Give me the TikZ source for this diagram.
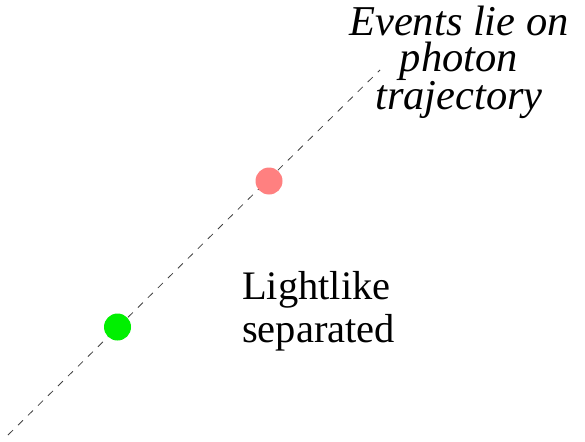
\documentclass[tikz,border=0pt]{standalone}
\usepackage{fontspec}
\setmainfont{Liberation Serif}
\begin{document}
\begin{tikzpicture}[x=1pt,y=-1pt,
  worldline/.style={draw=black!75,line width=0.8pt,dash pattern=on 7pt off 7pt},
  event/.style={circle,inner sep=0pt,minimum size=27pt,draw=none},
  caption/.style={inner sep=0pt,font=\fontsize{40.5}{43}\selectfont}]
  \useasboundingbox (0,0) rectangle (585,441);
  % photon trajectory
  \coordinate (lo) at (8,435);
  \coordinate (hi) at (380,70);
  \draw[worldline] (lo) -- (hi);
  % the two events on it
  \node[event,fill={rgb,255:red,255;green,128;blue,128}] (e2) at (269,181) {};
  \node[event,fill={rgb,255:red,0;green,240;blue,0}] (e1) at (117.5,327) {};
  % labels (base anchor sits on the last line)
  \node[caption,anchor=base,align=center,font=\fontsize{42.5}{36.5}\selectfont\itshape]
    (top) at (459,110) {Events lie on\\photon\\trajectory};
  \node[caption,anchor=base west,align=left] (sep) at (242,342) {Lightlike\\separated};
\end{tikzpicture}
\end{document}
